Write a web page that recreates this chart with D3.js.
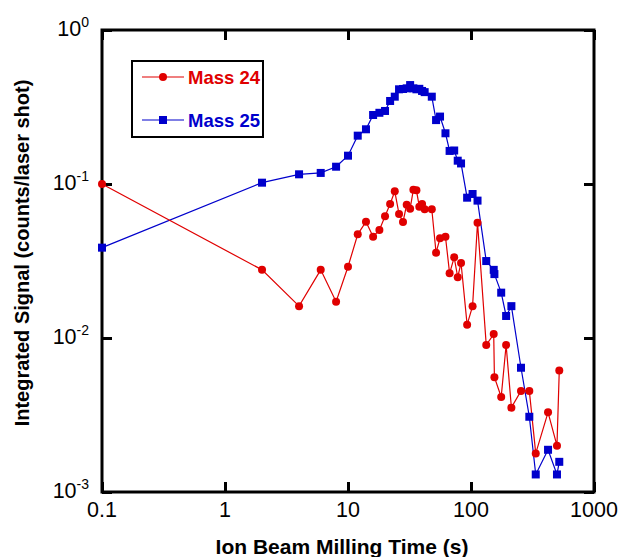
<!DOCTYPE html>
<html>
<head>
<meta charset="utf-8">
<script src="https://cdn.jsdelivr.net/npm/d3@7.9.0/dist/d3.min.js"></script>
<style>
  body { margin: 0; background: #fff; }
  svg { display: block; font-family: "Liberation Sans", Arial, sans-serif; }
</style>
</head>
<body>
<svg id="chart" width="620" height="557"></svg>
<script>
// milling time (s), shared by both series
const times = [0.1, 2, 4, 6, 8, 10, 12, 14, 16, 18, 20, 22, 24, 26, 28, 30, 32, 34, 36, 38,
  40, 42, 48, 52, 56, 62, 67, 73, 78, 83, 93, 103, 113, 133, 153, 155, 176, 193, 213, 255,
  298, 336, 423, 500, 522];

const mass24 = [0.1, 0.0277, 0.0161, 0.0277, 0.0172, 0.029, 0.0471, 0.0569, 0.0455, 0.0503,
  0.0617, 0.0742, 0.0897, 0.0638, 0.0567, 0.0734, 0.0691, 0.0918, 0.091, 0.0712,
  0.0742, 0.0685, 0.0685, 0.0358, 0.0444, 0.0455, 0.0263, 0.0334, 0.0248, 0.0307,
  0.0122, 0.0161, 0.0561, 0.009, 0.0106, 0.00556, 0.00414, 0.009, 0.00353, 0.00453,
  0.00453, 0.00178, 0.00329, 0.002, 0.00614];

const mass25 = [0.0386, 0.102, 0.1156, 0.118, 0.1295, 0.1527, 0.206, 0.2266, 0.2806, 0.29,
  0.298, 0.346, 0.369, 0.412, 0.414, 0.418, 0.439, 0.418, 0.412, 0.415,
  0.402, 0.395, 0.369, 0.26, 0.274, 0.2135, 0.164, 0.165, 0.1417, 0.136,
  0.0815, 0.0861, 0.078, 0.0316, 0.0277, 0.026, 0.0197, 0.0139, 0.0161, 0.00641,
  0.00308, 0.0013, 0.00188, 0.0013, 0.00157];

const xTicks = [0.1, 1, 10, 100, 1000];
const xTickLabels = ['0.1', '1', '10', '100', '1000'];
const yTicks = [1, 0.1, 0.01, 0.001];
const yExponents = ['0', '-1', '-2', '-3'];

const RED = '#e00000';
const BLUE = '#0000cc';
const SQ = 8;   // square marker side
const R = 4;    // circle marker radius

const svg = d3.select('#chart');
const plotLeft = 102, plotRight = 594, plotTop = 30, plotBottom = 492;

const x = d3.scaleLog().domain([0.1, 1000]).range([plotLeft, plotRight]);
const y = d3.scaleLog().domain([0.001, 1]).range([plotBottom, plotTop]);

// axes: ticks pointing inward on all four sides, labels drawn separately
const tickLen = 10;
svg.append('g').attr('transform', `translate(0,${plotBottom})`)
  .call(d3.axisTop(x).tickValues(xTicks).tickSize(tickLen).tickFormat(''));
svg.append('g').attr('transform', `translate(0,${plotTop})`)
  .call(d3.axisBottom(x).tickValues(xTicks).tickSize(tickLen).tickFormat(''));
svg.append('g').attr('transform', `translate(${plotLeft},0)`)
  .call(d3.axisRight(y).tickValues(yTicks).tickSize(tickLen).tickFormat(''));
svg.append('g').attr('transform', `translate(${plotRight},0)`)
  .call(d3.axisLeft(y).tickValues(yTicks).tickSize(tickLen).tickFormat(''));
svg.selectAll('.domain').remove();
svg.selectAll('.tick line').attr('stroke', '#000').attr('stroke-width', 3);

svg.append('rect')
  .attr('x', plotLeft).attr('y', plotTop)
  .attr('width', plotRight - plotLeft).attr('height', plotBottom - plotTop)
  .attr('fill', 'none').attr('stroke', '#000').attr('stroke-width', 3);

// tick labels
svg.append('g').selectAll('text')
  .data(xTicks)
  .join('text')
  .attr('x', d => x(d))
  .attr('y', 517)
  .attr('text-anchor', 'middle')
  .attr('font-size', 21.5)
  .text((d, i) => xTickLabels[i]);

const yl = svg.append('g').selectAll('text')
  .data(yTicks)
  .join('text')
  .attr('x', 89)
  .attr('y', d => y(d) + 5.5)
  .attr('text-anchor', 'end')
  .attr('font-size', 21.5);
yl.append('tspan').text('10');
yl.append('tspan')
  .attr('dy', -9)
  .attr('font-size', 14)
  .text((d, i) => yExponents[i]);

// axis titles
svg.append('text')
  .attr('x', 342).attr('y', 554)
  .attr('text-anchor', 'middle')
  .attr('font-size', 21).attr('font-weight', 'bold')
  .text('Ion Beam Milling Time (s)');

svg.append('text')
  .attr('transform', 'translate(29,253) rotate(-90)')
  .attr('text-anchor', 'middle')
  .attr('font-size', 20).attr('font-weight', 'bold')
  .text('Integrated Signal (counts/laser shot)');

// series
const line = d3.line().x(d => x(d[0])).y(d => y(d[1]));
const pts24 = times.map((t, i) => [t, mass24[i]]);
const pts25 = times.map((t, i) => [t, mass25[i]]);

svg.append('path').datum(pts25)
  .attr('d', line).attr('fill', 'none')
  .attr('stroke', BLUE).attr('stroke-width', 1.2);
svg.append('path').datum(pts24)
  .attr('d', line).attr('fill', 'none')
  .attr('stroke', RED).attr('stroke-width', 1.2);

svg.append('g').selectAll('rect')
  .data(pts25)
  .join('rect')
  .attr('x', d => x(d[0]) - SQ / 2)
  .attr('y', d => y(d[1]) - SQ / 2)
  .attr('width', SQ).attr('height', SQ)
  .attr('fill', BLUE);

svg.append('g').selectAll('circle')
  .data(pts24)
  .join('circle')
  .attr('cx', d => x(d[0]))
  .attr('cy', d => y(d[1]))
  .attr('r', R)
  .attr('fill', RED);

// legend
const legend = svg.append('g');
legend.append('rect')
  .attr('x', 132).attr('y', 61)
  .attr('width', 131).attr('height', 76)
  .attr('fill', '#fff').attr('stroke', '#000').attr('stroke-width', 2);

const legendItems = [
  { name: 'Mass 24', color: RED, shape: 'circle', y: 77 },
  { name: 'Mass 25', color: BLUE, shape: 'square', y: 120 }
];
legendItems.forEach(item => {
  legend.append('line')
    .attr('x1', 142).attr('x2', 184)
    .attr('y1', item.y).attr('y2', item.y)
    .attr('stroke', item.color).attr('stroke-width', 1.2);
  if (item.shape === 'circle') {
    legend.append('circle').attr('cx', 163).attr('cy', item.y).attr('r', R).attr('fill', item.color);
  } else {
    legend.append('rect').attr('x', 163 - SQ / 2).attr('y', item.y - SQ / 2)
      .attr('width', SQ).attr('height', SQ).attr('fill', item.color);
  }
  legend.append('text')
    .attr('x', 188).attr('y', item.y + 7)
    .attr('font-size', 18.5).attr('font-weight', 'bold')
    .attr('fill', item.color)
    .text(item.name);
});
</script>
</body>
</html>
